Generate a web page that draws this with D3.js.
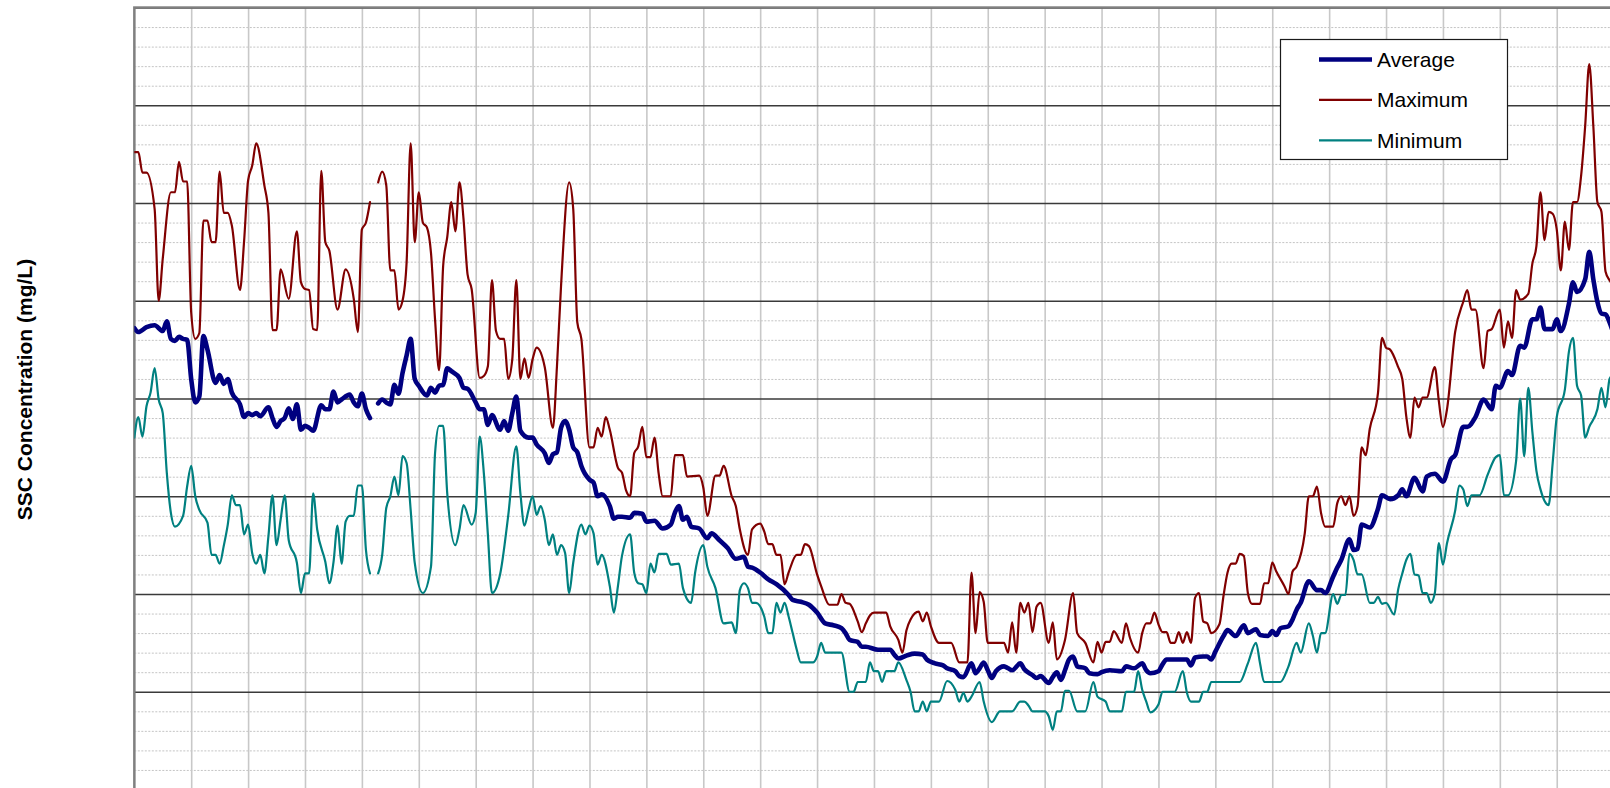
<!DOCTYPE html>
<html><head><meta charset="utf-8">
<script src="https://cdn.jsdelivr.net/npm/d3@7/dist/d3.min.js"></script>
<style>html,body{margin:0;padding:0;background:#fff;overflow:hidden}svg{display:block}</style>
</head><body>
<svg id="chart" width="1610" height="788"></svg>
<script>
// ---- data: [day of record, SSC mg/L]; null = missing day ----
const maxPoints = [[0,652],[1,652],[2,631],[3,631],[5,594],[6,500],[7,543],[9,611],[10,611],[11,642],[12,622],[13,622],[14,488],[15,461],[16,467],[17,582],[18,582],[19,560],[20,560],[21,632],[22,590],[23,590],[24,577],[26,511],[27,560],[28,623],[29,638],[30,661],[32,618],[33,590],[34,470],[35,470],[36,532],[38,502],[40,571],[41,519],[42,512],[43,511],[44,471],[45,470],[46,633],[47,560],[48,551],[50,491],[52,532],[54,502],[55,468],[56,573],[57,580],[58,601],[59,null],[60,621],[61,632],[62,618],[63,531],[64,531],[65,491],[66,500],[67,539],[68,661],[69,560],[70,611],[71,580],[72,575],[73,549],[74,481],[75,429],[76,536],[77,565],[78,601],[79,571],[80,621],[81,584],[82,527],[83,512],[85,421],[86,423],[87,433],[88,521],[89,469],[90,461],[91,461],[92,420],[93,440],[94,521],[95,420],[96,441],[97,421],[98,440],[99,452],[101,432],[103,370],[104,433],[105,515],[107,621],[108,594],[109,478],[110,461],[112,350],[113,350],[114,370],[115,361],[116,381],[117,368],[119,329],[120,324],[121,306],[122,300],[123,344],[124,351],[125,371],[126,340],[127,340],[128,360],[129,324],[130,300],[132,300],[133,342],[135,342],[136,320],[139,321],[140,309],[141,280],[143,321],[144,321],[145,331],[147,300],[148,290],[149,266],[151,240],[152,266],[154,272],[155,264],[156,251],[157,251],[158,240],[159,240],[160,210],[161,222],[163,240],[164,240],[165,251],[166,249],[168,220],[169,208],[171,189],[173,189],[174,200],[175,191],[176,190],[178,172],[179,161],[180,170],[181,178],[182,181],[185,181],[186,167],[188,153],[189,140],[190,163],[191,174],[193,182],[194,172],[195,181],[196,167],[198,150],[201,150],[203,130],[205,130],[206,222],[207,160],[208,202],[209,192],[210,150],[214,150],[215,140],[216,171],[217,140],[218,191],[219,181],[220,191],[221,161],[222,187],[223,191],[225,150],[226,171],[227,133],[229,153],[231,201],[232,160],[234,150],[236,130],[237,151],[238,140],[239,151],[240,151],[241,162],[243,150],[244,170],[245,155],[247,140],[248,160],[249,170],[250,170],[251,181],[252,169],[253,161],[254,161],[255,150],[256,150],[257,161],[258,150],[259,161],[260,150],[261,196],[262,201],[263,172],[264,170],[265,160],[267,169],[268,198],[269,222],[270,231],[271,231],[272,241],[273,239],[274,201],[275,190],[277,190],[278,211],[279,211],[280,232],[281,223],[283,208],[284,200],[285,223],[286,228],[288,262],[289,300],[290,300],[291,310],[292,283],[293,269],[295,269],[296,293],[297,300],[298,291],[299,300],[300,280],[301,290],[302,350],[303,342],[304,369],[306,405],[307,462],[308,452],[309,450],[311,432],[312,420],[313,381],[314,360],[315,401],[316,391],[317,401],[318,401],[320,432],[321,397],[322,371],[323,389],[325,468],[327,499],[328,511],[329,491],[330,491],[332,431],[333,469],[334,471],[336,491],[337,452],[338,479],[339,462],[340,511],[341,501],[343,507],[344,538],[345,556],[346,611],[347,562],[348,591],[349,589],[350,573],[351,531],[352,581],[353,552],[354,601],[355,601],[356,628],[357,679],[358,742],[359,679],[360,601],[361,591],[362,530],[363,521],[364,515]];

const avgPoints = [[0,472],[1,468],[3,473],[5,475],[7,469],[8,479],[9,461],[10,459],[11,463],[12,461],[13,460],[14,420],[15,396],[16,402],[17,464],[18,450],[20,416],[21,424],[22,415],[23,420],[24,406],[26,394],[27,381],[28,385],[29,383],[30,385],[31,382],[33,391],[34,380],[35,371],[36,377],[37,380],[38,390],[39,379],[40,394],[41,368],[42,372],[43,370],[44,367],[46,393],[47,389],[48,389],[49,407],[50,396],[51,399],[53,404],[54,396],[55,392],[56,405],[57,389],[58,380],[59,null],[60,395],[61,399],[62,396],[63,394],[64,414],[65,405],[66,426],[67,444],[68,461],[69,420],[70,413],[72,403],[73,411],[74,406],[75,413],[76,414],[77,431],[78,428],[80,421],[81,411],[82,410],[84,396],[85,389],[86,389],[87,373],[88,383],[90,368],[91,377],[92,367],[93,385],[94,402],[95,367],[97,360],[98,360],[99,353],[101,344],[102,334],[103,343],[104,345],[105,370],[106,377],[107,368],[108,350],[109,345],[110,331],[112,317],[113,314],[114,300],[115,302],[117,290],[118,277],[119,279],[120,279],[122,278],[123,283],[125,282],[126,274],[128,275],[130,267],[132,271],[133,283],[134,290],[135,276],[136,279],[137,269],[139,267],[141,257],[142,262],[144,255],[146,247],[148,236],[150,238],[151,228],[152,227],[154,222],[156,215],[158,210],[161,199],[162,194],[164,192],[166,189],[168,181],[170,170],[172,168],[174,165],[175,160],[176,153],[178,151],[179,146],[180,146],[183,143],[186,143],[187,138],[188,134],[190,137],[192,139],[194,138],[195,133],[197,129],[199,127],[200,124],[202,121],[203,116],[204,115],[206,129],[207,119],[208,124],[209,130],[210,122],[211,114],[212,121],[214,126],[215,124],[216,122],[218,129],[219,123],[221,117],[222,114],[223,116],[225,109],[226,115],[227,120],[228,112],[229,122],[230,133],[231,136],[232,126],[234,124],[235,119],[237,118],[238,120],[240,122],[243,121],[244,126],[246,124],[248,129],[249,122],[250,119],[252,121],[253,128],[254,133],[256,133],[257,133],[259,133],[260,127],[261,135],[263,136],[264,136],[265,133],[266,141],[268,157],[269,163],[271,157],[273,168],[274,160],[276,164],[277,158],[279,157],[280,162],[281,158],[282,165],[284,167],[285,174],[286,184],[287,191],[289,213],[291,204],[292,204],[293,201],[295,218],[296,227],[297,235],[299,256],[300,245],[301,246],[302,271],[304,268],[306,287],[307,301],[309,297],[311,301],[312,307],[313,300],[315,319],[317,305],[318,320],[320,323],[322,315],[324,338],[325,342],[327,371],[328,371],[330,381],[332,399],[334,389],[335,413],[336,411],[338,428],[339,424],[341,454],[342,452],[344,481],[345,481],[346,493],[347,471],[349,471],[350,481],[351,469],[353,497],[354,519],[355,509],[357,522],[358,550],[359,522],[360,499],[361,487],[362,486],[363,478],[364,466]];

const minPoints = [[0,360],[1,381],[2,361],[3,392],[4,406],[5,431],[6,399],[7,385],[8,324],[9,283],[10,269],[12,280],[13,310],[14,331],[15,300],[16,286],[18,273],[19,240],[20,240],[21,231],[22,249],[23,271],[24,301],[25,291],[26,291],[27,261],[28,271],[29,242],[30,231],[31,240],[32,221],[33,259],[34,301],[35,250],[36,276],[37,301],[38,255],[40,232],[41,201],[42,221],[43,221],[44,303],[45,266],[47,233],[48,211],[49,232],[50,270],[51,231],[52,274],[53,280],[54,280],[55,311],[56,311],[57,245],[58,221],[59,null],[60,221],[61,240],[62,288],[63,300],[64,320],[65,301],[66,341],[67,334],[68,286],[69,232],[71,201],[73,228],[74,344],[75,372],[76,372],[77,303],[79,250],[80,266],[81,291],[83,271],[84,283],[85,361],[86,324],[87,261],[88,201],[90,220],[92,280],[94,351],[95,303],[96,270],[97,286],[98,300],[99,281],[100,290],[101,276],[102,250],[103,261],[104,240],[105,250],[106,242],[107,201],[108,232],[110,271],[111,261],[112,270],[113,262],[114,230],[115,240],[117,208],[118,181],[119,208],[120,239],[122,261],[123,222],[124,211],[125,210],[126,201],[127,231],[128,222],[129,241],[131,241],[132,230],[134,231],[135,206],[137,191],[138,222],[140,250],[141,228],[143,206],[145,170],[147,171],[148,160],[149,204],[150,211],[151,206],[152,191],[153,191],[155,177],[156,160],[157,160],[158,191],[159,181],[160,191],[161,177],[162,160],[163,143],[164,130],[167,130],[168,136],[169,150],[170,140],[174,140],[176,100],[177,100],[178,110],[180,110],[181,130],[182,121],[183,121],[184,110],[185,121],[187,121],[188,130],[190,112],[191,100],[192,80],[193,80],[194,90],[195,80],[196,90],[198,90],[200,111],[202,102],[203,90],[204,99],[205,90],[206,95],[208,110],[209,90],[211,69],[213,80],[216,80],[218,90],[219,90],[220,86],[221,80],[224,80],[225,75],[226,61],[227,80],[228,80],[229,101],[230,101],[232,80],[234,80],[236,110],[237,95],[239,90],[240,80],[243,80],[244,100],[246,100],[247,121],[248,102],[249,90],[250,79],[252,87],[253,100],[256,100],[258,121],[259,99],[260,90],[262,90],[263,100],[264,100],[265,110],[272,110],[274,129],[276,150],[277,129],[278,110],[282,110],[284,126],[286,150],[287,140],[289,170],[290,157],[291,140],[292,160],[293,160],[295,200],[296,190],[297,199],[298,199],[299,241],[300,235],[301,220],[302,220],[304,191],[305,191],[306,197],[307,190],[308,191],[310,179],[311,205],[312,221],[313,235],[314,241],[315,220],[316,219],[317,201],[318,201],[319,191],[320,201],[321,252],[322,230],[323,252],[325,285],[326,311],[327,307],[328,290],[329,301],[331,301],[333,322],[335,340],[336,342],[337,301],[338,301],[340,336],[341,400],[342,341],[343,411],[344,366],[345,326],[346,307],[348,291],[349,334],[350,381],[352,409],[353,448],[354,462],[355,413],[356,403],[357,360],[358,371],[360,389],[361,411],[362,391],[363,420],[364,425]];

const seriesNames = ["Average", "Maximum", "Minimum"];
const seriesColors = ["#000080", "#800000", "#008080"];
const yMajorTicks = [0, 100, 200, 300, 400, 500, 600, 700, 800];
const yMinorTicks = d3.range(0, 801, 20).filter(v => v % 100 !== 0);
const xGridDays = d3.range(0, 366, 14);
const yTitle = "SSC Concentration (mg/L)";

(function () {
  const svg = d3.select("#chart");
  const pLeft = 134.3, pRight = 1617.7, pTop = 7.5, pBottom = 789.5;
  const x = d3.scaleLinear().domain([0, 365]).range([pLeft, pRight]);
  const y = d3.scaleLinear().domain([0, 800]).range([pBottom, pTop]);
  const W = pRight - pLeft, H = pBottom - pTop;

  svg.append("rect").attr("width", 1610).attr("height", 788).attr("fill", "#fff");

  const gMinor = svg.append("g").attr("transform", `translate(${pLeft},0)`)
    .call(d3.axisLeft(y).tickValues(yMinorTicks).tickSize(-W).tickFormat(""));
  gMinor.select(".domain").remove();
  gMinor.selectAll("line").attr("stroke", "#c4c4c4").attr("stroke-width", 1).attr("stroke-dasharray", "2,1.5");

  const gV = svg.append("g").attr("transform", `translate(0,${pBottom})`)
    .call(d3.axisBottom(x).tickValues(xGridDays).tickSize(-H).tickFormat(""));
  gV.select(".domain").remove();
  gV.selectAll("line").attr("stroke", "#c8c8c8").attr("stroke-width", 1.6);

  const gMajor = svg.append("g").attr("transform", `translate(${pLeft},0)`)
    .call(d3.axisLeft(y).tickValues(yMajorTicks).tickSize(-W).tickFormat(""));
  gMajor.select(".domain").remove();
  gMajor.selectAll("line").attr("stroke", "#3a3a3a").attr("stroke-width", 1.3);

  svg.append("rect").attr("x", pLeft).attr("y", pTop).attr("width", W).attr("height", H)
    .attr("fill", "none").attr("stroke", "#808080").attr("stroke-width", 2.4);

  svg.append("clipPath").attr("id", "plotclip").append("rect")
    .attr("x", pLeft).attr("y", pTop).attr("width", W).attr("height", H);

  const line = d3.line()
    .defined(d => d[1] !== null)
    .x(d => x(d[0])).y(d => y(d[1]))
    .curve(d3.curveMonotoneX);

  const gLines = svg.append("g").attr("clip-path", "url(#plotclip)");
  [
    {pts: maxPoints, color: seriesColors[1], w: 2.2},
    {pts: minPoints, color: seriesColors[2], w: 2.2},
    {pts: avgPoints, color: seriesColors[0], w: 4.6}
  ].forEach(s => {
    gLines.append("path").datum(s.pts).attr("d", line)
      .attr("fill", "none").attr("stroke", s.color).attr("stroke-width", s.w)
      .attr("stroke-linejoin", "round").attr("stroke-linecap", "round");
  });

  svg.append("text")
    .attr("transform", "translate(32,389.5) rotate(-90)")
    .attr("text-anchor", "middle")
    .attr("font-family", "Arial, 'Liberation Sans', sans-serif")
    .attr("font-weight", "bold").attr("font-size", 21).attr("fill", "#000")
    .text(yTitle);

  const lg = svg.append("g");
  lg.append("rect").attr("x", 1280.5).attr("y", 39.5).attr("width", 227).attr("height", 120)
    .attr("fill", "#fff").attr("stroke", "#1a1a1a").attr("stroke-width", 1.2);
  const legendW = [4.6, 2.2, 2.2];
  seriesNames.forEach((name, i) => {
    const ry = 59.5 + i * 40.4;
    lg.append("line").attr("x1", 1319).attr("x2", 1372).attr("y1", ry).attr("y2", ry)
      .attr("stroke", seriesColors[i]).attr("stroke-width", legendW[i]);
    lg.append("text").attr("x", 1377).attr("y", ry + 7.3)
      .attr("font-family", "Arial, 'Liberation Sans', sans-serif")
      .attr("font-size", 21).attr("fill", "#000").text(name);
  });
})();
</script>
</body></html>
